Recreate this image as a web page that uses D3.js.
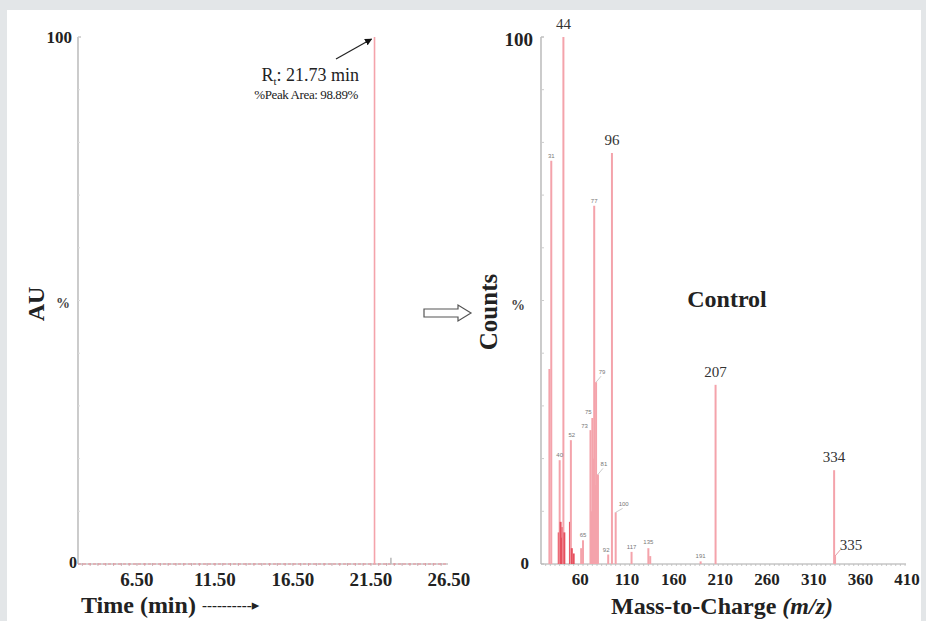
<!DOCTYPE html>
<html><head><meta charset="utf-8">
<script src="https://cdn.jsdelivr.net/npm/d3@7/dist/d3.min.js"></script>
<style>body{margin:0;background:#e3e6e8;}svg{display:block;}</style>
</head><body><svg id="c" width="926" height="621"></svg>
<script>
// ---------- data ----------
const timeTicks = [6.5, 11.5, 16.5, 21.5, 26.5];
const timeTickLabels = ["6.50", "11.50", "16.50", "21.50", "26.50"];
const chromTimes = [21.73, 22.78];
const chromValues = [100, 1.2];

const mzTicks = [60, 110, 160, 210, 260, 310, 360, 410];
const msMz = [29, 31, 39, 40, 41, 42, 43, 44, 45, 51, 52, 53, 55, 63, 65, 73, 74, 75, 76, 77, 78, 79, 80, 81, 92, 96, 100, 117, 135, 137, 191, 207, 334, 335];
const msIntensity = [37, 76.5, 6, 19.7, 8, 5, 7, 100, 6, 8, 23.5, 3, 2, 3, 4.5, 25.4, 10, 27.7, 20, 68, 15, 34.5, 8, 17, 1.8, 78, 9.8, 2.3, 3, 1.5, 0.5, 34, 17.8, 1.5];
const bigLabels = [44, 96, 207, 334, 335];
const smallLabels = [31, 40, 52, 65, 73, 75, 77, 79, 81, 92, 100, 117, 135, 191];

const yTicksMinor = d3.range(0, 101, 10);

// ---------- layout ----------
const svg = d3.select("#c");
svg.append("rect").attr("x", 7).attr("y", 10).attr("width", 914).attr("height", 611).attr("fill", "#fff");

const serif = "'Liberation Serif', 'DejaVu Serif', serif";
const peakCol = "#f4a3ab";
const axisCol = "#a9a9a9";

const y = d3.scaleLinear().domain([0, 100]).range([564, 37]);
const xL = d3.scaleLinear().domain([2.72, 26.44]).range([78, 448]);
const xR = d3.scaleLinear().domain([20, 411]).range([541, 906]);

// ===== Left chart (chromatogram) =====
const L = svg.append("g");
L.append("line").attr("x1", xL.range()[0]).attr("x2", xL.range()[0]).attr("y1", y(100)).attr("y2", y(0)).attr("stroke", axisCol).attr("stroke-width", 1.2);
L.append("line").attr("x1", xL.range()[0]).attr("x2", xL.range()[0] + 3).attr("y1", y(100)).attr("y2", y(100)).attr("stroke", axisCol);
L.selectAll(".yt").data(yTicksMinor).join("line")
  .attr("x1", xL.range()[0]).attr("x2", xL.range()[0] + 2).attr("y1", d => y(d)).attr("y2", d => y(d)).attr("stroke", "#ddd");
L.append("line").attr("x1", xL.range()[0]).attr("x2", xL.range()[1]).attr("y1", y(0)).attr("y2", y(0)).attr("stroke", axisCol).attr("stroke-width", 1.2);
L.selectAll(".xm").data(d3.range(3, 26.5, 0.5)).join("line")
  .attr("x1", d => xL(d)).attr("x2", d => xL(d)).attr("y1", y(0) - 1).attr("y2", y(0) + 2).attr("stroke", "#c8a0a4").attr("stroke-width", 0.8);
L.append("line").attr("x1", xL.range()[0]).attr("x2", xL.range()[1]).attr("y1", y(0)).attr("y2", y(0))
  .attr("stroke", "#ec8f99").attr("stroke-width", 1.2).attr("stroke-dasharray", "3,2");
L.selectAll(".pk").data(chromTimes).join("line")
  .attr("x1", d => xL(d)).attr("x2", d => xL(d)).attr("y1", y(0)).attr("y2", (d, i) => y(chromValues[i]))
  .attr("stroke", (d, i) => i === 0 ? peakCol : "#bbb").attr("stroke-width", 1.6);
L.selectAll(".xl").data(timeTicks).join("text")
  .attr("x", d => xL(d)).attr("y", 586).attr("text-anchor", "middle")
  .attr("font-family", serif).attr("font-weight", "bold").attr("font-size", 19).attr("fill", "#222")
  .text((d, i) => timeTickLabels[i]);
L.append("text").attr("x", 72).attr("y", 43).attr("text-anchor", "end").attr("font-family", serif).attr("font-weight", "bold").attr("font-size", 17).attr("fill", "#222").text("100");
L.append("text").attr("x", 77).attr("y", 568).attr("text-anchor", "end").attr("font-family", serif).attr("font-weight", "bold").attr("font-size", 16).attr("fill", "#222").text("0");
L.append("text").attr("x", 63).attr("y", 308).attr("text-anchor", "middle").attr("font-family", serif).attr("font-weight", "bold").attr("font-size", 14).attr("fill", "#444").text("%");
L.append("text").attr("transform", "translate(44,304) rotate(-90)").attr("text-anchor", "middle")
  .attr("font-family", serif).attr("font-weight", "bold").attr("font-size", 24).attr("fill", "#222").text("AU");
const tl = L.append("text").attr("x", 81).attr("y", 613).attr("font-family", serif).attr("font-weight", "bold").attr("font-size", 24).attr("fill", "#222");
tl.append("tspan").text("Time (min) ");
tl.append("tspan").attr("font-size", 15).attr("dy", -3).text("----------\u25B8");
const rt = L.append("text").attr("x", 359).attr("y", 81).attr("text-anchor", "end").attr("font-family", serif).attr("font-size", 18).attr("fill", "#222");
rt.append("tspan").text("R");
rt.append("tspan").attr("font-size", 11).attr("dy", 4).text("t");
rt.append("tspan").attr("dy", -4).text(": 21.73 min");
L.append("text").attr("x", 358).attr("y", 99).attr("text-anchor", "end").attr("font-family", serif).attr("font-size", 13).attr("letter-spacing", -0.4).attr("fill", "#222").text("%Peak Area:  98.89%");
svg.append("defs").append("marker").attr("id", "ah").attr("viewBox", "0 0 10 10").attr("refX", 9).attr("refY", 5)
  .attr("markerWidth", 6).attr("markerHeight", 6).attr("orient", "auto")
  .append("path").attr("d", "M0,0L10,5L0,10z").attr("fill", "#111");
L.append("line").attr("x1", 336).attr("y1", 59).attr("x2", xL(chromTimes[0]) - 3).attr("y2", y(100) + 2)
  .attr("stroke", "#222").attr("stroke-width", 1.2).attr("marker-end", "url(#ah)");

// ===== Arrow between charts =====
svg.append("path").attr("d", "M424,309 L458,309 L458,305 L471,313 L458,321 L458,317 L424,317 Z")
  .attr("fill", "#fff").attr("stroke", "#555").attr("stroke-width", 1.2);

// ===== Right chart (mass spectrum) =====
const R = svg.append("g");
R.append("line").attr("x1", xR.range()[0]).attr("x2", xR.range()[0]).attr("y1", y(100)).attr("y2", y(0)).attr("stroke", axisCol).attr("stroke-width", 1.2);
R.append("line").attr("x1", xR.range()[0]).attr("x2", xR.range()[0] + 3).attr("y1", y(100)).attr("y2", y(100)).attr("stroke", axisCol);
R.selectAll(".yt").data(yTicksMinor).join("line")
  .attr("x1", xR.range()[0]).attr("x2", xR.range()[0] + 3).attr("y1", d => y(d)).attr("y2", d => y(d)).attr("stroke", "#ccc");
R.append("line").attr("x1", xR.range()[0]).attr("x2", xR.range()[1]).attr("y1", y(0)).attr("y2", y(0)).attr("stroke", axisCol).attr("stroke-width", 1.2);
R.selectAll(".xm").data(d3.range(25, 411, 5)).join("line")
  .attr("x1", d => xR(d)).attr("x2", d => xR(d)).attr("y1", y(0)).attr("y2", y(0) + 2).attr("stroke", "#bbb").attr("stroke-width", 0.8);
R.selectAll(".pk").data(msMz).join("line")
  .attr("x1", d => xR(d)).attr("x2", d => xR(d)).attr("y1", y(0)).attr("y2", (d, i) => y(msIntensity[i]))
  .attr("stroke", (d, i) => msIntensity[i] < 12 && d < 60 ? "#e6505e" : peakCol)
  .attr("stroke-width", 2);
const valOf = m => msIntensity[msMz.indexOf(m)];
R.selectAll(".bl").data(bigLabels).join("text")
  .attr("x", d => xR(d) + (d === 335 ? 16 : 0)).attr("y", d => y(valOf(d)) - (d === 335 ? 6 : 8))
  .attr("text-anchor", "middle").attr("font-family", serif).attr("font-size", 15).attr("fill", "#333").text(d => d);
R.append("line").attr("x1", xR(335)).attr("y1", y(valOf(335))).attr("x2", xR(335) + 5).attr("y2", y(valOf(335)) - 6).attr("stroke", "#e6a0a8");
const smOff = {31:[0,-3],40:[0,-3],52:[1,-3],65:[0,-3],73:[-6,-2],75:[-4,-4],77:[0,-3],79:[6,-8],81:[6,-8],92:[-2,-3],100:[8,-6],117:[0,-3],135:[0,-4],191:[0,-3]};
R.selectAll(".sl").data(smallLabels).join("text")
  .attr("x", d => xR(d) + smOff[d][0]).attr("y", d => y(valOf(d)) + smOff[d][1])
  .attr("text-anchor", "middle").attr("font-family", "Arial, sans-serif").attr("font-size", 6).attr("fill", "#777").text(d => d);
R.selectAll(".ld").data([79, 81, 100]).join("line")
  .attr("x1", d => xR(d)).attr("y1", d => y(valOf(d))).attr("x2", d => xR(d) + smOff[d][0] - 1).attr("y2", d => y(valOf(d)) + smOff[d][1] + 2)
  .attr("stroke", "#aaa").attr("stroke-width", 0.6);
R.selectAll(".xl").data(mzTicks).join("text")
  .attr("x", d => xR(d) + 2).attr("y", 585).attr("text-anchor", "middle")
  .attr("font-family", serif).attr("font-weight", "bold").attr("font-size", 17).attr("fill", "#222").text(d => d);
R.append("text").attr("x", 533).attr("y", 46).attr("text-anchor", "end").attr("font-family", serif).attr("font-weight", "bold").attr("font-size", 19).attr("fill", "#222").text("100");
R.append("text").attr("x", 529).attr("y", 569).attr("text-anchor", "end").attr("font-family", serif).attr("font-weight", "bold").attr("font-size", 17).attr("fill", "#222").text("0");
R.append("text").attr("x", 518).attr("y", 310).attr("text-anchor", "middle").attr("font-family", serif).attr("font-weight", "bold").attr("font-size", 14).attr("fill", "#444").text("%");
R.append("text").attr("transform", "translate(497,312) rotate(-90)").attr("text-anchor", "middle")
  .attr("font-family", serif).attr("font-weight", "bold").attr("font-size", 25).attr("fill", "#222").text("Counts");
R.append("text").attr("x", 727).attr("y", 307).attr("text-anchor", "middle")
  .attr("font-family", serif).attr("font-weight", "bold").attr("font-size", 24).attr("fill", "#222").text("Control");
const ml = R.append("text").attr("x", 722).attr("y", 614).attr("text-anchor", "middle")
  .attr("font-family", serif).attr("font-weight", "bold").attr("font-size", 24).attr("fill", "#222");
ml.append("tspan").text("Mass-to-Charge ");
ml.append("tspan").attr("font-style", "italic").text("(m/z)");
</script></body></html>
